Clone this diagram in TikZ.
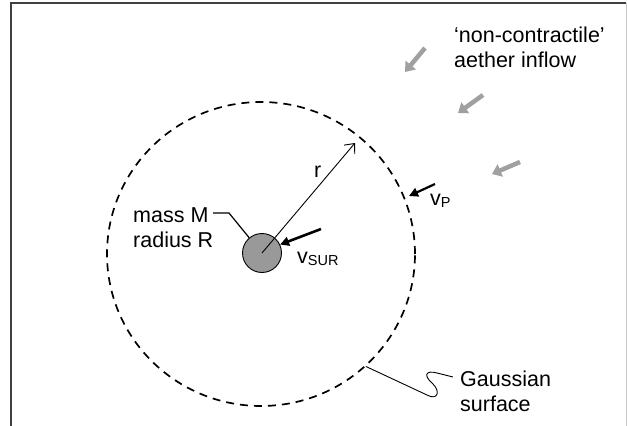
\documentclass[tikz,border=0pt]{standalone}
\usepackage{fontspec}
\setmainfont{Liberation Sans}
\usetikzlibrary{arrows.meta,shapes.geometric}
\definecolor{inflow}{HTML}{A0A0A0}
\definecolor{massfill}{HTML}{999999}
\definecolor{framedark}{HTML}{404040}
\definecolor{framelight}{HTML}{C8C8C8}
\tikzset{
  lbl/.style={inner sep=0pt, font=\fontsize{21.5}{24.5}\selectfont},
  inflowarrow/.style={draw=inflow, line width=4.5pt, -{Triangle[length=9pt,width=13pt]}},
  velarrow/.style={draw=black, line width=2.6pt, -{Triangle[length=9pt,width=9pt]}},
  thinline/.style={draw=black, line width=0.9pt},
}
\begin{document}
\begin{tikzpicture}[x=1pt,y=-1pt]
\useasboundingbox (0,0) rectangle (627,426);
% frame
\draw[framedark, line width=1.4pt] (11,426) -- (11,3) -- (626,3);
\draw[framelight, line width=1pt] (626,3) -- (626,426);

% Gaussian surface
\node[ellipse, draw, dash pattern=on 8pt off 6pt, line width=1.7pt,
      minimum width=308pt, minimum height=304pt, inner sep=0pt] (gauss) at (261,254) {};

% mass
\node[circle, draw, fill=massfill, line width=0.9pt, minimum size=39pt, inner sep=0pt] (mass) at (262,253) {};

% radius arrow
\coordinate (rtip) at (355,143);
\draw[thinline, -{Straight Barb[length=8pt,width=14pt]}] (mass.center) -- (rtip);
\node[lbl, anchor=base west] (rlab) at (314,177) {r};

% mass label (base anchor = last line)
\node[lbl, anchor=base west, align=left] (masslab) at (133,247) {mass M\\radius R};
\coordinate (mleadA) at (213,213);
\coordinate (mleadB) at (229,213);
\draw[thinline, line width=1.2pt] (mleadA) -- (mleadB) -- (mass.130);

% v_SUR
\coordinate (vsurtail) at (321,229);
\draw[velarrow] (vsurtail) -- (mass.25);
\node[lbl, anchor=base west] (vsur) at (297,263) {v\raisebox{-2pt}{\fontsize{14.5}{16}\selectfont SUR}};

% v_P
\coordinate (vptail) at (435,184);
\coordinate (vptip) at (409,196);
\draw[velarrow, line width=2.2pt] (vptail) -- (vptip);
\node[lbl, anchor=base west] (vp) at (430,205) {v\raisebox{-2pt}{\fontsize{14.5}{16}\selectfont P}};

% inflow arrows
\coordinate (ia1) at (425,48);  \coordinate (ib1) at (405,72);
\coordinate (ia2) at (483,95);  \coordinate (ib2) at (458,113);
\coordinate (ia3) at (520,162); \coordinate (ib3) at (492,174);
\draw[inflowarrow] (ia1) -- (ib1);
\draw[inflowarrow] (ia2) -- (ib2);
\draw[inflowarrow] (ia3) -- (ib3);
\node[lbl, anchor=base west, align=left] (inflowlab) at (454,67) {‘non-contractile’\\aether inflow};

% Gaussian surface label
\node[lbl, anchor=base west, align=left] (gausslab) at (460,411) {Gaussian\\surface};
\coordinate (gq) at (453,377);
\draw[thinline] (gauss.-47) -- (427,395) .. controls (438,401) and (441,391) .. (432,383)
   .. controls (423,375) and (426,370) .. (437,373) -- (gq);
\end{tikzpicture}
\end{document}
